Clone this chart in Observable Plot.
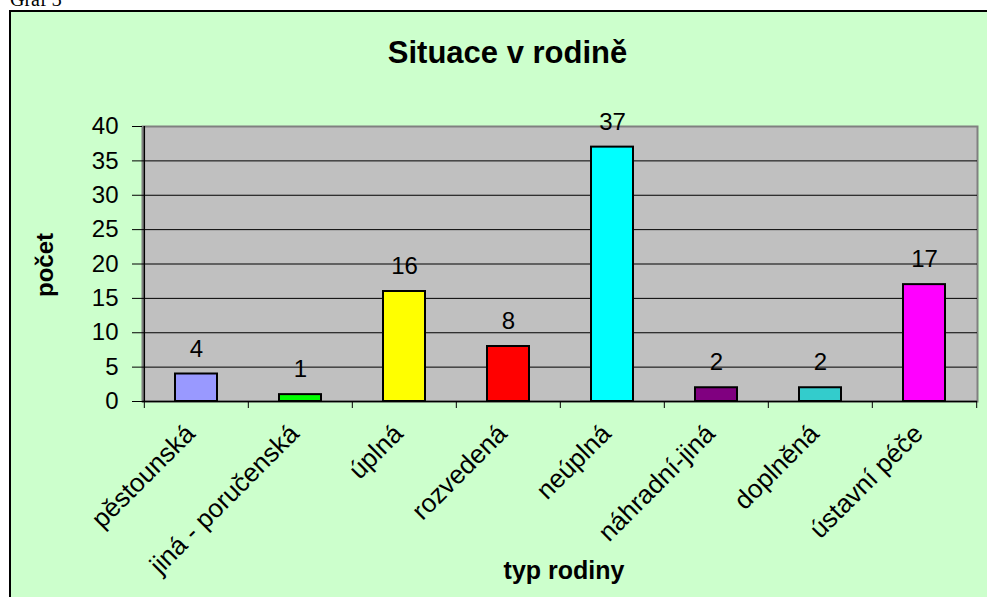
<!DOCTYPE html>
<html>
<head>
<meta charset="utf-8">
<script src="https://cdn.jsdelivr.net/npm/d3@7"></script>
<script src="https://cdn.jsdelivr.net/npm/@observablehq/plot@0.6"></script>
<style>
  html, body { margin: 0; padding: 0; background: #ffffff; overflow: hidden; }
  #wrap { position: relative; width: 987px; height: 597px; overflow: hidden; }
  #caption { position: absolute; left: 10px; top: -11px; font-family: "Liberation Serif", "Times New Roman", serif; font-size: 20px; color: #000; line-height: 20px; }
  #box { position: absolute; left: 9px; top: 10px; width: 1100px; height: 700px; background: #ccffcc; border: 2px solid #000; box-sizing: border-box; }
  #chart { position: absolute; left: 0; top: 0; }
</style>
</head>
<body>
<div id="wrap">
  <div id="caption">Graf 3</div>
  <div id="box"></div>
  <div id="chart"></div>
</div>
<script>
const categories = ["pěstounská", "jiná - poručenská", "úplná", "rozvedená", "neúplná", "náhradní-jiná", "doplněná", "ústavní péče"];
const values = [4, 1, 16, 8, 37, 2, 2, 17];
const colors = ["#9999ff", "#00ff00", "#ffff00", "#ff0000", "#00ffff", "#800080", "#33cccc", "#ff00ff"];
const yTicks = [0, 5, 10, 15, 20, 25, 30, 35, 40];
const gridTicks = [5, 10, 15, 20, 25, 30, 35];
const title = "Situace v rodině";
const yTitle = "počet";
const xTitle = "typ rodiny";

const data = categories.map((c, i) => ({cat: c, value: values[i], color: colors[i]}));

const W = 987, H = 597, mL = 142, mR = 10, mT = 126, mB = 196;
const step = (W - mL - mR) / categories.length;
const font = "'Liberation Sans', Arial, sans-serif";

const chart = Plot.plot({
  width: W,
  height: H,
  marginLeft: mL,
  marginRight: mR,
  marginTop: mT,
  marginBottom: mB,
  style: {background: "transparent", fontFamily: font, color: "#000", overflow: "visible"},
  x: {domain: categories, paddingInner: 0.6, paddingOuter: 0.3, label: null},
  y: {domain: [0, 40], label: null},
  color: {type: "identity"},
  marks: [
    Plot.frame({fill: "#c0c0c0", stroke: "#808080", strokeWidth: 2}),
    Plot.gridY(gridTicks, {stroke: "#000", strokeOpacity: 1, strokeWidth: 1}),
    Plot.ruleY([0], {stroke: "#000", strokeWidth: 1.5}),
    Plot.ruleX([categories[0]], {dx: -step / 2, stroke: "#000", strokeWidth: 1.5}),
    Plot.barY(data, {x: "cat", y: "value", fill: "color", stroke: "#000", strokeWidth: 2}),
    Plot.text(data, {x: "cat", y: "value", text: d => String(d.value), dy: -25, lineAnchor: "middle", fontSize: 24, fill: "#000"}),
    Plot.axisY(yTicks, {tickSize: 10, tickPadding: 14, fontSize: 24, label: null, stroke: "#000"}),
    Plot.axisX({tickSize: 7, tickFormat: () => "", dx: -step / 2, label: null}),
    Plot.axisX([categories[categories.length - 1]], {tickSize: 7, tickFormat: () => "", dx: step / 2, label: null}),
    Plot.axisX({tickSize: 0, tickPadding: 28, tickRotate: -45, fontSize: 26, dx: -6, label: null}),
    Plot.text([title], {frameAnchor: "top-left", dx: 507 - mL, dy: 53 - mT, lineAnchor: "middle", textAnchor: "middle", fontSize: 31, fontWeight: "bold"}),
    Plot.text([yTitle], {frameAnchor: "left", rotate: -90, dx: 45 - mL, dy: 1, lineAnchor: "middle", textAnchor: "middle", fontSize: 24, fontWeight: "bold"}),
    Plot.text([xTitle], {frameAnchor: "bottom", dx: 4, dy: 169, lineAnchor: "middle", textAnchor: "middle", fontSize: 25, fontWeight: "bold"})
  ]
});
document.getElementById("chart").appendChild(chart);
</script>
</body>
</html>
